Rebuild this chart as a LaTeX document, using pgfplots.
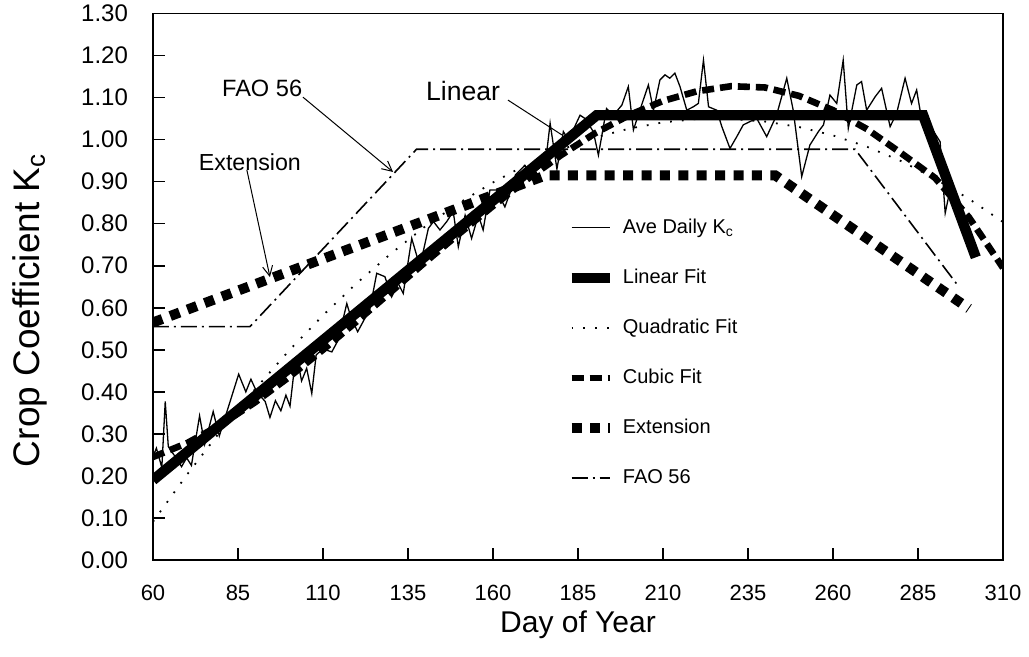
\documentclass[border=0pt]{standalone}
\usepackage{fontspec}
\setmainfont{Liberation Sans}
\usepackage{pgfplots}
\pgfplotsset{compat=1.18}
\usetikzlibrary{arrows.meta}

\begin{document}
\begin{tikzpicture}
\useasboundingbox (-76.5pt,-48.5pt) rectangle (438pt,280pt);
\begin{axis}[
    at={(0,0)}, anchor=south west,
    width=425pt, height=273.25pt, scale only axis,
    xmin=60, xmax=310, ymin=0, ymax=1.3,
    xtick={60,85,110,135,160,185,210,235,260,285,310},
    ytick={0,0.1,0.2,0.3,0.4,0.5,0.6,0.7,0.8,0.9,1.0,1.1,1.2,1.3},
    tick align=inside, xtick pos=bottom, ytick pos=left,
    major tick length=6pt,
    axis line style={line width=0.8pt},
    every tick/.style={black, line width=0.8pt},
    /pgf/number format/assume math mode=true,
    yticklabel style={/pgf/number format/.cd, fixed, fixed zerofill, precision=2,
        /tikz/.cd, font=\fontsize{12}{14}\selectfont, xshift=-9pt},
    xticklabel style={font=\fontsize{11}{13}\selectfont, yshift=-9pt},
    xlabel={Day of Year},
    ylabel={Crop Coefficient K\textsubscript{c}},
    xlabel style={at={(axis description cs:0.5,0)}, anchor=center, yshift=-32.5pt,
        font=\fontsize{15}{17}\selectfont},
    ylabel style={at={(axis description cs:-0.1447,0.457)}, anchor=center,
        font=\fontsize{18.5}{20}\selectfont},
    legend style={at={(axis description cs:0.486,0.632)}, anchor=north west,
        draw=none, fill=none, inner sep=0pt, row sep=12.3pt,
        font=\fontsize{10}{12}\selectfont, cells={anchor=west}},
    legend image code/.code={\draw[#1] (0pt,0pt) -- (19pt,0pt); \path (21pt,0pt);},
]
% Ave Daily Kc
\addplot[black, line width=0.65pt] coordinates {
(60.0,0.246) (61.0,0.266) (62.6,0.220) (63.6,0.377) (64.5,0.270) (66.5,0.246)
(68.4,0.222) (69.9,0.243) (71.3,0.225) (73.7,0.343) (75.2,0.275) (77.7,0.353)
(79.5,0.295) (82.6,0.375) (85.2,0.442) (87.3,0.400) (88.8,0.430) (90.5,0.400)
(93.0,0.377) (94.4,0.339) (96.0,0.379) (97.6,0.355) (99.1,0.392) (100.3,0.366)
(101.5,0.450) (102.7,0.468) (103.7,0.426) (105.2,0.456) (106.7,0.396) (108.0,0.488)
(110.0,0.502) (112.6,0.495) (114.4,0.522) (117.0,0.610) (118.3,0.575) (120.2,0.543)
(123.8,0.597) (125.8,0.682) (128.2,0.674) (130.2,0.626) (132.1,0.658) (133.6,0.634)
(136.1,0.765) (138.5,0.698) (141.0,0.789) (142.5,0.805) (144.4,0.785) (146.4,0.805)
(148.3,0.829) (149.8,0.745) (151.8,0.820) (153.7,0.765) (155.7,0.820) (157.1,0.785)
(159.1,0.880) (161.0,0.880) (163.5,0.840) (165.5,0.884) (166.6,0.916) (169.3,0.938)
(171.0,0.925) (173.5,0.940) (175.6,0.955) (176.8,1.039) (178.8,0.930) (180.7,1.019)
(182.2,0.999) (185.6,1.058) (187.1,1.050) (189.5,1.019) (191.0,0.963) (193.4,1.074)
(195.4,1.058) (197.9,1.082) (199.8,1.126) (201.3,1.023) (203.2,1.070) (205.7,1.130)
(207.2,1.070) (209.1,1.142) (210.6,1.154) (212.0,1.146) (213.5,1.158) (215.0,1.126)
(217.0,1.070) (218.9,1.078) (220.4,1.086) (221.9,1.189) (223.4,1.078) (225.8,1.070)
(227.3,1.031) (229.7,0.979) (231.7,1.007) (233.6,1.035) (235.6,1.043) (237.6,1.050)
(240.5,1.007) (243.4,1.058) (246.4,1.146) (248.3,1.070) (250.8,0.912) (253.2,0.987)
(255.7,1.019) (257.2,1.035) (259.1,1.106) (261.1,1.086) (263.0,1.189) (264.5,1.027)
(267.0,1.130) (268.4,1.138) (269.9,1.070) (272.4,1.102) (274.3,1.122) (276.8,1.031)
(278.7,1.062) (281.2,1.146) (283.1,1.086) (284.6,1.118) (285.6,1.070) (288.0,1.040)
(291.5,0.995) (293.0,0.825) (294.4,0.880) (297.0,0.800) (300.0,0.740) (301.5,0.720)
};
\addlegendentry{Ave Daily K\textsubscript{c}}
% Linear fit
\addplot[black, line width=5.2pt] coordinates {
(60,0.19) (190.5,1.058) (286.5,1.058) (302,0.72)
};
\addlegendentry{Linear Fit}
% Quadratic fit
\addplot[black, line width=0.9pt, dash pattern=on 0.9pt off 5pt] coordinates {
(60,0.091) (70,0.203) (80,0.308) (90,0.406) (100,0.498) (110,0.582)
(120,0.659) (130,0.729) (140,0.793) (150,0.849) (160,0.898) (170,0.941)
(180,0.976) (190,1.005) (200,1.026) (210,1.041) (220,1.049) (230,1.049)
(240,1.043) (250,1.030) (260,1.010) (270,0.983) (280,0.949) (290,0.907)
(300,0.859) (310,0.804)
};
\addlegendentry{Quadratic Fit}
% Cubic fit
\addplot[black, line width=3.3pt, dash pattern=on 6pt off 3pt] coordinates {
(60,0.245) (70,0.278) (80,0.322) (90,0.375) (100,0.435) (110,0.500)
(120,0.568) (130,0.638) (140,0.708) (150,0.776) (160,0.842) (170,0.905)
(180,0.963) (190,1.015) (200,1.058) (210,1.092) (220,1.115) (230,1.127)
(240,1.124) (250,1.104) (260,1.070) (270,1.025) (280,0.968) (290,0.909)
(300,0.815) (310,0.695)
};
\addlegendentry{Cubic Fit}
% Extension
\addplot[black, line width=5pt, dash pattern=on 5pt off 4.2pt] coordinates {
(60,0.565) (175.5,0.915) (243,0.915) (300,0.598)
};
\addlegendentry{Extension}
% FAO 56
\addplot[black, line width=0.8pt, dash pattern=on 8pt off 2.5pt on 1pt off 2.5pt] coordinates {
(60,0.555) (88.5,0.555) (137.5,0.977) (266.5,0.977) (297,0.65)
};
\addlegendentry{FAO 56}

\node[font=\fontsize{11.8}{13}\selectfont] at (axis cs:92.1,1.123) {FAO 56};
\draw[line width=0.5pt, -{Straight Barb[length=5pt,width=5pt]}] (axis cs:104.1,1.101) -- (axis cs:130.6,0.923);
\node[font=\fontsize{11.6}{13}\selectfont] at (axis cs:88.5,0.947) {Extension};
\draw[line width=0.5pt, -{Straight Barb[length=5pt,width=5pt]}] (axis cs:87.6,0.928) -- (axis cs:94.4,0.673);
\node[font=\fontsize{13.3}{15}\selectfont] at (axis cs:151.2,1.116) {Linear};
\draw[line width=0.5pt] (axis cs:164.4,1.094) -- (axis cs:180.3,1.011);
\end{axis}
\end{tikzpicture}
\end{document}
